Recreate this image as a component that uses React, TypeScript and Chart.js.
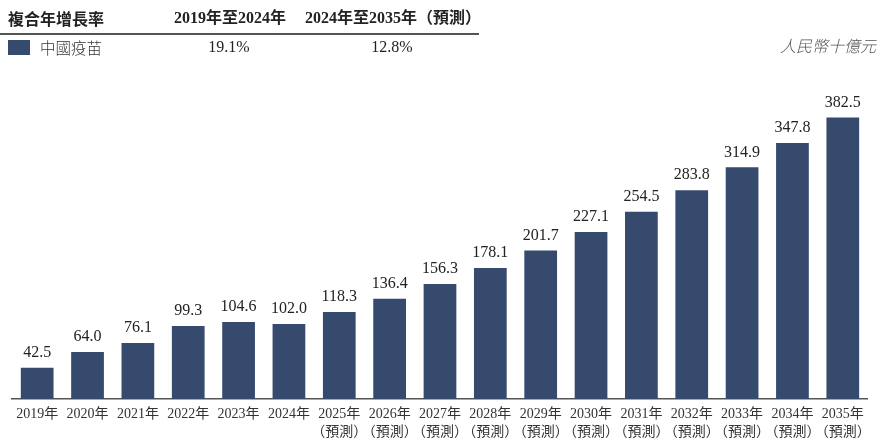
import React, { useEffect, useRef } from "react";
import { Chart, registerables } from "chart.js";

Chart.register(...registerables);

const years = ["2019", "2020", "2021", "2022", "2023", "2024", "2025", "2026", "2027", "2028", "2029", "2030", "2031", "2032", "2033", "2034", "2035"];
const forecastFrom = 2025;
const values = [42.5, 64.0, 76.1, 99.3, 104.6, 102.0, 118.3, 136.4, 156.3, 178.1, 201.7, 227.1, 254.5, 283.8, 314.9, 347.8, 382.5];
const cagrHeaders = ["複合年增長率", "2019年至2024年", "2024年至2035年（預測）"];
const cagrRow = ["中國疫苗", "19.1%", "12.8%"];
const unitLabel = "人民幣十億元";

const BAR = "#354a6c";
const FONT = "'Liberation Serif', 'Noto Sans CJK TC', serif";

const labels = years.map((y) => (Number(y) >= forecastFrom ? [y + "年", "（預測）"] : y + "年"));

const valueLabelPlugin = {
  id: "valueLabels",
  afterDatasetsDraw(chart: any) {
    const ctx = chart.ctx;
    const meta = chart.getDatasetMeta(0);
    ctx.save();
    ctx.font = "16px " + FONT;
    ctx.fillStyle = "#222";
    ctx.textAlign = "center";
    ctx.textBaseline = "bottom";
    meta.data.forEach((el: any, i: number) => {
      ctx.fillText(values[i].toFixed(1), el.x, el.y - 7);
    });
    ctx.restore();
  },
};

export default function App() {
  const ref = useRef<HTMLCanvasElement>(null);
  useEffect(() => {
    if (!ref.current) return;
    const chart = new Chart(ref.current, {
      type: "bar",
      data: {
        labels,
        datasets: [
          {
            data: values,
            backgroundColor: BAR,
            categoryPercentage: 1,
            barPercentage: 0.65,
          },
        ],
      },
      options: {
        animation: false,
        responsive: false,
        layout: { padding: { left: 12, right: 7, top: 90, bottom: 0 } },
        plugins: { legend: { display: false }, tooltip: { enabled: false } },
        scales: {
          x: {
            grid: { display: false, drawTicks: false },
            border: { display: true, color: "#555", width: 1.5 },
            ticks: {
              color: "#333",
              font: { size: 14, family: FONT, lineHeight: 1.3 },
              padding: 6,
              maxRotation: 0,
              autoSkip: false,
            },
            afterFit(scale: any) {
              scale.height = 39;
            },
          },
          y: {
            display: false,
            min: 0,
            max: 420,
          },
        },
      },
      plugins: [valueLabelPlugin],
    });
    return () => chart.destroy();
  }, []);

  const cell: React.CSSProperties = { position: "absolute", whiteSpace: "nowrap", color: "#222" };
  return (
    <div style={{ position: "fixed", left: 0, top: 0, width: 877, height: 438, background: "#fff", fontFamily: FONT }}>
      <canvas ref={ref} width={877} height={438} style={{ position: "absolute", left: 0, top: 0 }} />
      <div style={{ ...cell, left: 8, top: 8, fontSize: 16, fontWeight: 700, fontFamily: "'Noto Sans CJK TC', sans-serif", lineHeight: "20px" }}>{cagrHeaders[0]}</div>
      <div style={{ ...cell, left: 230, top: 8, transform: "translateX(-50%)", fontSize: 16, fontWeight: 700, lineHeight: "20px" }}>{cagrHeaders[1]}</div>
      <div style={{ ...cell, left: 393, top: 8, transform: "translateX(-50%)", fontSize: 16, fontWeight: 700, lineHeight: "20px" }}>{cagrHeaders[2]}</div>
      <div style={{ position: "absolute", left: 0, top: 33, width: 479, height: 1.5, background: "#555" }} />
      <div style={{ position: "absolute", left: 8, top: 40, width: 22, height: 15, background: BAR }} />
      <div style={{ ...cell, left: 40, top: 37, fontSize: 15.5, lineHeight: "20px", color: "#333", fontFamily: "'Noto Sans CJK TC', sans-serif", fontWeight: 300 }}>{cagrRow[0]}</div>
      <div style={{ ...cell, left: 229, top: 37, transform: "translateX(-50%)", fontSize: 16, lineHeight: "20px" }}>{cagrRow[1]}</div>
      <div style={{ ...cell, left: 392, top: 37, transform: "translateX(-50%)", fontSize: 16, lineHeight: "20px" }}>{cagrRow[2]}</div>
      <div style={{ ...cell, right: 1, top: 35, fontSize: 16, lineHeight: "20px", fontStyle: "italic", color: "#555", fontFamily: "'Noto Sans CJK TC', sans-serif", fontWeight: 300 }}>{unitLabel}</div>
    </div>
  );
}
